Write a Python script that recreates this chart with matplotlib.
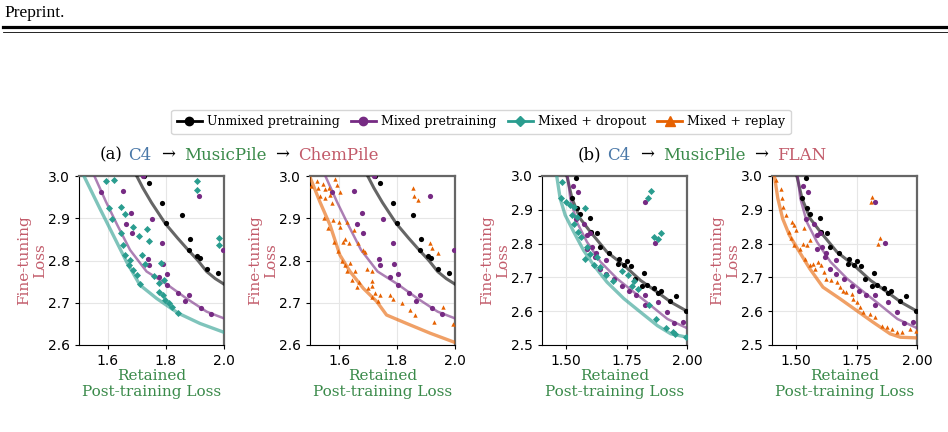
import matplotlib
matplotlib.use("Agg")
import matplotlib.pyplot as plt
from matplotlib.lines import Line2D

W, H = 948, 432

# colours
BLACK = "#000000"
PURPLE = "#762a83"
TEAL = "#2a9d8f"
ORANGE = "#e66101"
C4_COL = "#4a78a8"
MUSIC_COL = "#3a8a4a"
TARGET_COL = "#c25b6a"

# ---------------- (a) C4 -> MusicPile -> ChemPile ----------------
a_black_line_x = [1.699, 1.72, 1.75, 1.797, 1.84, 1.871, 1.91, 1.940, 1.97, 2.0]
a_black_line_y = [3.0, 2.972, 2.937, 2.888, 2.853, 2.829, 2.800, 2.774, 2.757, 2.744]
a_black_x = [1.724, 1.743, 1.787, 1.854, 1.800, 1.883, 1.880, 1.906, 1.918, 1.940, 1.980]
a_black_y = [3.0, 2.983, 2.937, 2.908, 2.888, 2.852, 2.825, 2.811, 2.807, 2.781, 2.771]

a_purple_line_x = [1.553, 1.593, 1.632, 1.676, 1.733, 1.802, 1.871, 1.940, 2.0]
a_purple_line_y = [3.0, 2.939, 2.884, 2.825, 2.774, 2.744, 2.710, 2.679, 2.663]
a_purple_x = [1.576, 1.653, 1.722, 1.678, 1.751, 1.662, 1.682, 1.787, 1.739, 1.741,
              1.791, 1.802, 1.777, 1.802, 1.843, 1.879, 1.866, 1.921, 1.955, 1.914, 1.998]
a_purple_y = [2.961, 2.964, 3.0, 2.913, 2.898, 2.886, 2.866, 2.841, 2.804, 2.789,
              2.791, 2.767, 2.762, 2.742, 2.724, 2.718, 2.704, 2.687, 2.673, 2.953, 2.825]

a_teal_line_x = [1.517, 1.572, 1.618, 1.664, 1.710, 1.768, 1.843, 1.917, 2.0]
a_teal_line_y = [3.0, 2.923, 2.860, 2.797, 2.742, 2.710, 2.675, 2.651, 2.630]
a_teal_x = [1.593, 1.622, 1.603, 1.615, 1.644, 1.660, 1.645, 1.653, 1.687, 1.708,
            1.734, 1.742, 1.660, 1.677, 1.674, 1.687, 1.701, 1.710, 1.718, 1.728,
            1.759, 1.777, 1.783, 1.794, 1.777, 1.791, 1.797, 1.809, 1.820, 1.843,
            1.906, 1.906, 1.984, 1.984]
a_teal_y = [2.988, 2.991, 2.925, 2.898, 2.927, 2.910, 2.864, 2.837, 2.879, 2.858,
            2.874, 2.846, 2.813, 2.801, 2.789, 2.778, 2.766, 2.744, 2.812, 2.791,
            2.764, 2.747, 2.795, 2.755, 2.726, 2.718, 2.707, 2.700, 2.691, 2.675,
            2.988, 2.967, 2.854, 2.837]

a_orange_line_x = [1.502, 1.534, 1.569, 1.603, 1.638, 1.684, 1.730, 1.764, 1.833, 1.914, 2.0]
a_orange_line_y = [2.994, 2.939, 2.884, 2.813, 2.774, 2.734, 2.703, 2.671, 2.651, 2.628, 2.606]
a_orange_x = [1.503, 1.525, 1.526, 1.546, 1.552, 1.567, 1.534, 1.552, 1.569, 1.586,
              1.592, 1.603, 1.575, 1.549, 1.561, 1.580, 1.600, 1.603, 1.626, 1.621,
              1.615, 1.634, 1.653, 1.667, 1.684, 1.690, 1.584, 1.595, 1.609, 1.621,
              1.638, 1.655, 1.626, 1.644, 1.670, 1.661, 1.695, 1.713, 1.701, 1.713,
              1.713, 1.724, 1.713, 1.733, 1.741, 1.776, 1.787, 1.816, 1.845, 1.862,
              1.856, 1.859, 1.874, 1.914, 1.920, 1.943, 1.957, 1.928, 1.994]
a_orange_y = [2.977, 2.988, 2.972, 2.981, 2.969, 2.971, 2.953, 2.947, 2.955, 2.994,
              2.979, 2.963, 2.935, 2.900, 2.876, 2.896, 2.890, 2.880, 2.892, 2.852,
              2.843, 2.841, 2.872, 2.841, 2.825, 2.819, 2.843, 2.822, 2.799, 2.789,
              2.795, 2.774, 2.775, 2.754, 2.750, 2.738, 2.781, 2.774, 2.734, 2.751,
              2.740, 2.722, 2.714, 2.703, 2.718, 2.718, 2.710, 2.700, 2.683, 2.671,
              2.971, 2.953, 2.943, 2.841, 2.830, 2.817, 2.691, 2.655, 2.649]

# ---------------- (b) C4 -> MusicPile -> FLAN ----------------
b_black_line_x = [1.503, 1.524, 1.558, 1.600, 1.669, 1.739, 1.808, 1.878, 1.933, 2.0]
b_black_line_y = [3.0, 2.934, 2.874, 2.835, 2.775, 2.736, 2.691, 2.656, 2.627, 2.600]
b_black_x = [1.542, 1.524, 1.544, 1.556, 1.600, 1.604, 1.628, 1.642, 1.676, 1.717,
             1.714, 1.753, 1.769, 1.739, 1.783, 1.822, 1.833, 1.864, 1.878, 1.894,
             1.929, 1.954, 1.996, 1.815]
b_black_y = [2.993, 2.934, 2.904, 2.889, 2.877, 2.835, 2.832, 2.790, 2.773, 2.755,
             2.739, 2.749, 2.734, 2.736, 2.695, 2.713, 2.678, 2.668, 2.653, 2.661,
             2.629, 2.645, 2.600, 2.676]

b_purple_line_x = [1.506, 1.517, 1.544, 1.586, 1.642, 1.711, 1.781, 1.850, 1.919, 2.0]
b_purple_line_y = [3.0, 2.934, 2.864, 2.805, 2.746, 2.696, 2.656, 2.617, 2.577, 2.550]
b_purple_x = [1.528, 1.547, 1.542, 1.572, 1.586, 1.600, 1.586, 1.606, 1.625, 1.621,
              1.642, 1.664, 1.699, 1.733, 1.761, 1.787, 1.826, 1.867, 1.826, 1.828,
              1.881, 1.919, 1.947, 1.985, 1.664]
b_purple_y = [2.971, 2.953, 2.874, 2.859, 2.825, 2.830, 2.785, 2.790, 2.773, 2.760,
              2.726, 2.711, 2.696, 2.676, 2.661, 2.649, 2.922, 2.802, 2.649, 2.617,
              2.627, 2.597, 2.565, 2.567, 2.750]

b_teal_line_x = [1.461, 1.475, 1.496, 1.531, 1.572, 1.614, 1.669, 1.739, 1.808, 1.878, 1.933, 2.0]
b_teal_line_y = [3.0, 2.934, 2.884, 2.835, 2.780, 2.736, 2.686, 2.637, 2.597, 2.557, 2.533, 2.523]
b_teal_x = [1.482, 1.479, 1.500, 1.514, 1.531, 1.524, 1.544, 1.531, 1.551, 1.579,
            1.561, 1.586, 1.600, 1.579, 1.628, 1.614, 1.642, 1.664, 1.694, 1.729,
            1.754, 1.771, 1.797, 1.781, 1.840, 1.850, 1.864, 1.878, 1.894, 1.843,
            1.871, 1.913, 1.940, 1.951, 1.996]
b_teal_y = [2.983, 2.934, 2.924, 2.914, 2.909, 2.884, 2.879, 2.859, 2.835, 2.904,
            2.820, 2.790, 2.770, 2.755, 2.760, 2.736, 2.731, 2.706, 2.688, 2.718,
            2.706, 2.676, 2.666, 2.688, 2.934, 2.955, 2.820, 2.815, 2.830, 2.617,
            2.577, 2.549, 2.538, 2.533, 2.523]

b_orange_line_x = [1.410, 1.424, 1.444, 1.472, 1.514, 1.556, 1.611, 1.681, 1.750, 1.819, 1.889, 1.931, 2.0]
b_orange_line_y = [3.0, 2.934, 2.874, 2.825, 2.775, 2.726, 2.671, 2.637, 2.602, 2.567, 2.533, 2.523, 2.521]
b_orange_x = [1.417, 1.438, 1.442, 1.447, 1.456, 1.483, 1.493, 1.500, 1.469, 1.479,
              1.493, 1.514, 1.528, 1.531, 1.535, 1.556, 1.569, 1.576, 1.590, 1.604,
              1.614, 1.625, 1.646, 1.667, 1.681, 1.694, 1.708, 1.729, 1.736, 1.750,
              1.764, 1.778, 1.806, 1.826, 1.854, 1.875, 1.896, 1.917, 1.938, 1.972,
              1.997, 1.808, 1.815, 1.840, 1.847, 1.544, 1.556]
b_orange_y = [2.988, 2.961, 2.934, 2.909, 2.884, 2.864, 2.856, 2.840, 2.835, 2.817,
              2.795, 2.785, 2.800, 2.845, 2.755, 2.736, 2.741, 2.726, 2.746, 2.736,
              2.716, 2.696, 2.691, 2.686, 2.671, 2.661, 2.658, 2.651, 2.637, 2.627,
              2.612, 2.597, 2.592, 2.582, 2.557, 2.552, 2.548, 2.538, 2.538, 2.548,
              2.540, 2.924, 2.939, 2.800, 2.817, 2.795, 2.810]

plt.rcParams["font.family"] = "DejaVu Sans"
fig = plt.figure(figsize=(W / 100, H / 100), dpi=100)

# page header
fig.text(4 / W, 1 - 13 / H, "Preprint.", family="Liberation Serif", fontsize=12.5,
         va="center", ha="left")
fig.add_artist(Line2D([3 / W, 1], [1 - 27 / H] * 2, lw=2.3, color="black"))
fig.add_artist(Line2D([3 / W, 1], [1 - 31.5 / H] * 2, lw=0.6, color="black"))


def panel(left_px, xlim, xticks, xticklabels, ylim, yticks):
    ax = fig.add_axes([left_px / W, 1 - 345 / H, 145 / W, 169 / H])
    ax.set_xlim(*xlim)
    ax.set_ylim(*ylim)
    ax.set_xticks(xticks)
    ax.set_xticklabels(xticklabels)
    ax.set_yticks(yticks)
    ax.grid(True, color="#e6e6e6", lw=0.8)
    ax.set_axisbelow(True)
    ax.tick_params(labelsize=10, length=3, width=0.8)
    ax.spines["left"].set_color("black")
    ax.spines["bottom"].set_color("black")
    for s in ("top", "right"):
        ax.spines[s].set_color("#666666")
        ax.spines[s].set_linewidth(1.6)
    ax.set_ylabel("Fine-tuning\nLoss", family="DejaVu Serif", fontsize=11,
                  color=TARGET_COL, labelpad=0.5)
    ax.set_xlabel("Retained\nPost-training Loss", family="DejaVu Serif",
                  fontsize=11, color=MUSIC_COL, labelpad=0.5)
    return ax


def draw_series(ax, lx, ly, px, py, color, marker, size, lw):
    ax.plot(lx, ly, color=color, alpha=0.6, lw=lw, zorder=3)
    ax.scatter(px, py, color=color, marker=marker, s=size, lw=0, zorder=4)


a_xt = [1.6, 1.8, 2.0]
a_yt = [2.6, 2.7, 2.8, 2.9, 3.0]
b_xt = [1.5, 1.75, 2.0]
b_yt = [2.5, 2.6, 2.7, 2.8, 2.9, 3.0]

ax1 = panel(79, (1.5, 2.0), a_xt, ["1.6", "1.8", "2.0"], (2.6, 3.0), a_yt)
draw_series(ax1, a_black_line_x, a_black_line_y, a_black_x, a_black_y, BLACK, "o", 14, 2.2)
draw_series(ax1, a_purple_line_x, a_purple_line_y, a_purple_x, a_purple_y, PURPLE, "o", 14, 1.8)
draw_series(ax1, a_teal_line_x, a_teal_line_y, a_teal_x, a_teal_y, TEAL, "D", 13, 2.4)

ax2 = panel(310, (1.5, 2.0), a_xt, ["1.6", "1.8", "2.0"], (2.6, 3.0), a_yt)
draw_series(ax2, a_black_line_x, a_black_line_y, a_black_x, a_black_y, BLACK, "o", 14, 2.2)
draw_series(ax2, a_purple_line_x, a_purple_line_y, a_purple_x, a_purple_y, PURPLE, "o", 14, 1.8)
draw_series(ax2, a_orange_line_x, a_orange_line_y, a_orange_x, a_orange_y, ORANGE, "^", 10, 2.4)

ax3 = panel(542, (1.4, 2.0), b_xt, ["1.50", "1.75", "2.00"], (2.5, 3.0), b_yt)
draw_series(ax3, b_black_line_x, b_black_line_y, b_black_x, b_black_y, BLACK, "o", 14, 2.2)
draw_series(ax3, b_purple_line_x, b_purple_line_y, b_purple_x, b_purple_y, PURPLE, "o", 14, 1.8)
draw_series(ax3, b_teal_line_x, b_teal_line_y, b_teal_x, b_teal_y, TEAL, "D", 13, 2.4)

ax4 = panel(772, (1.4, 2.0), b_xt, ["1.50", "1.75", "2.00"], (2.5, 3.0), b_yt)
draw_series(ax4, b_black_line_x, b_black_line_y, b_black_x, b_black_y, BLACK, "o", 14, 2.2)
draw_series(ax4, b_purple_line_x, b_purple_line_y, b_purple_x, b_purple_y, PURPLE, "o", 14, 1.8)
draw_series(ax4, b_orange_line_x, b_orange_line_y, b_orange_x, b_orange_y, ORANGE, "^", 10, 2.4)

# legend
handles = [
    Line2D([], [], color=BLACK, marker="o", ms=6, lw=2),
    Line2D([], [], color=PURPLE, marker="o", ms=6, lw=2),
    Line2D([], [], color=TEAL, marker="D", ms=5.5, lw=2),
    Line2D([], [], color=ORANGE, marker="^", ms=6.5, lw=2),
]
labels = ["Unmixed pretraining", "Mixed pretraining", "Mixed + dropout", "Mixed + replay"]
fig.legend(handles, labels, loc="center", bbox_to_anchor=(481 / W, 1 - 122 / H),
           ncol=4, prop={"family": "DejaVu Serif", "size": 9}, frameon=True,
           handlelength=2, columnspacing=0.9, handletextpad=0.4, borderpad=0.45,
           edgecolor="#cccccc")

# multicoloured panel titles, placed piece by piece
fig.canvas.draw()
renderer = fig.canvas.get_renderer()


def color_title(x_px, y_px, parts):
    x = x_px
    for text, color, gap in parts:
        t = fig.text(x / W, 1 - y_px / H, text, family="DejaVu Serif",
                     fontsize=12, color=color, va="center", ha="left")
        x += t.get_window_extent(renderer).width + gap


color_title(100, 155, [("(a)", BLACK, 5), ("C4", C4_COL, 10), ("→", BLACK, 9),
                       ("MusicPile", MUSIC_COL, 9), ("→", BLACK, 9), ("ChemPile", TARGET_COL, 0)])
color_title(578, 155, [("(b)", BLACK, 5), ("C4", C4_COL, 10), ("→", BLACK, 9),
                       ("MusicPile", MUSIC_COL, 9), ("→", BLACK, 9), ("FLAN", TARGET_COL, 0)])

fig.savefig("out.png", dpi=100)
